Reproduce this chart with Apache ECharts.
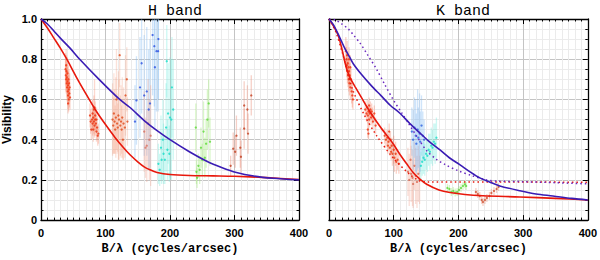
<!DOCTYPE html>
<html><head><meta charset="utf-8">
<script src="https://cdn.jsdelivr.net/npm/echarts@6/dist/echarts.min.js"></script>
<style>html,body{margin:0;padding:0;background:#fff}#c{width:600px;height:260px}</style>
</head><body><div id="c"></div>
<script>
// ---------- tick labels / titles ----------
const panelTitles = ['H band', 'K band'];
const xName = 'B/\u03bb (cycles/arcsec)';
const yName = 'Visibility';

// ---------- model curves [x, V] ----------
const hRedModel = [[0,1.0],[10,0.955],[20,0.905],[30,0.855],[40,0.80],[55,0.71],[72,0.615],[86,0.54],[100,0.475],[115,0.41],[128,0.36],[138,0.325],[150,0.29],[160,0.265],[169,0.25],[180,0.237],[200,0.227],[230,0.222],[267,0.22],[300,0.218],[350,0.211],[400,0.202]];
const hBlueModel = [[0,1.0],[10,0.975],[20,0.94],[30,0.905],[45,0.855],[60,0.80],[90,0.70],[122,0.60],[138,0.56],[160,0.495],[180,0.445],[200,0.40],[230,0.34],[257,0.293],[280,0.262],[303,0.237],[330,0.219],[360,0.208],[400,0.20]];
const kRedModel = [[0,1.0],[7,0.965],[14,0.92],[20,0.85],[25,0.78],[28,0.745],[33,0.705],[40,0.665],[50,0.61],[63,0.54],[80,0.46],[99,0.38],[110,0.325],[120,0.28],[130,0.237],[140,0.205],[151,0.178],[170,0.15],[187,0.137],[210,0.127],[238,0.121],[295,0.115],[350,0.108],[400,0.10]];
const kBlueModel = [[0,1.0],[8,0.965],[17,0.905],[25,0.85],[32,0.81],[38,0.775],[50,0.725],[65,0.67],[80,0.62],[95,0.57],[110,0.53],[125,0.48],[140,0.435],[155,0.39],[171,0.35],[186,0.31],[202,0.276],[218,0.24],[233,0.21],[248,0.19],[264,0.17],[295,0.146],[320,0.13],[346,0.12],[375,0.108],[400,0.10]];
const kRedDotted = [[0,1.0],[10,0.94],[20,0.84],[30,0.72],[37.5,0.64],[55,0.52],[73.6,0.42],[99,0.31],[125,0.227],[140,0.195],[150,0.19],[250,0.19],[400,0.188]];
const kBlueDotted = [[0,1.0],[10,0.995],[20,0.975],[30,0.95],[38,0.92],[48,0.88],[60,0.82],[73.6,0.75],[86,0.675],[99,0.60],[112,0.535],[125,0.47],[138,0.405],[151,0.345],[165,0.305],[180,0.275],[200,0.245],[220,0.222],[243,0.2],[260,0.194],[300,0.191],[350,0.186],[400,0.18]];

// ---------- observations [x, V, error] ----------
const hRedA = [[38,0.75,0.08],[38.5,0.72,0.08],[39,0.70,0.07],[39.5,0.74,0.08],[40,0.68,0.07],[40,0.71,0.07],[40.5,0.66,0.07],[41,0.69,0.07],[41,0.73,0.08],[41.5,0.64,0.07],[42,0.67,0.07],[42,0.62,0.07],[42.5,0.70,0.07],[43,0.65,0.07],[43,0.60,0.06],[43.5,0.68,0.07],[44,0.63,0.07],[44.5,0.66,0.07],[45,0.61,0.06],[39,0.77,0.08],[42,0.58,0.05]];
const hRedB = [[76,0.52,0.06],[77,0.49,0.06],[78,0.45,0.05],[79,0.50,0.06],[80,0.48,0.06],[80,0.53,0.07],[81,0.51,0.06],[82,0.49,0.06],[82,0.55,0.07],[83,0.47,0.06],[84,0.50,0.06],[84,0.52,0.07],[85,0.48,0.06],[86,0.50,0.06],[86,0.44,0.05],[87,0.46,0.06],[88,0.42,0.05],[89,0.43,0.05],[83,0.56,0.14],[81,0.45,0.06]];
const hRedC = [[111,0.50,0.18],[112,0.47,0.14],[113,0.53,0.2],[114,0.49,0.16],[115,0.45,0.12],[116,0.51,0.2],[117,0.60,0.25],[118,0.48,0.15],[119,0.46,0.12],[120,0.52,0.22],[121,0.50,0.2],[122,0.82,0.16],[123,0.47,0.15],[124,0.49,0.18],[125,0.45,0.12],[126,0.51,0.2],[127,0.40,0.1],[128,0.48,0.18],[130,0.46,0.15],[131,0.62,0.2],[133,0.70,0.16],[134,0.49,0.12]];
const hBlue = [[145.7,0.49,0.18],[148,0.595,0.22],[153.5,0.66,0.25],[156,0.78,0.25],[160,0.62,0.3],[164,0.64,0.32],[167,0.55,0.3],[169,0.58,0.32],[173,0.92,0.3],[175.7,0.865,0.3],[176.6,0.76,0.3],[179,0.84,0.3],[181.6,0.84,0.3],[182,0.90,0.3]];
const hSalmon = [[160,0.44,0.2],[162,0.36,0.15],[164,0.37,0.18],[166,0.48,0.22],[168,0.40,0.2],[170,0.42,0.25]];
const hCyan = [[182,0.28,0.1],[184,0.25,0.08],[186,0.36,0.16],[187,0.30,0.12],[189,0.40,0.2],[190,0.33,0.15],[192,0.30,0.12],[194,0.46,0.22],[195,0.79,0.18],[196,0.35,0.15],[197,0.53,0.25],[199,0.33,0.14],[200,0.51,0.3],[202,0.50,0.3],[203,0.66,0.25],[205,0.55,0.25]];
const hGreen = [[240,0.46,0.12],[241,0.24,0.06],[242,0.21,0.05],[244,0.27,0.06],[246,0.25,0.07],[248,0.36,0.1],[250,0.30,0.08],[252,0.44,0.15],[254,0.31,0.1],[256,0.38,0.12],[258,0.50,0.15],[260,0.58,0.12],[262,0.39,0.12]];
const hOrange = [[294,0.27,0.05],[298,0.355,0.08],[301,0.34,0.08],[303,0.42,0.1],[309,0.36,0.1],[310,0.315,0.08],[315,0.57,0.12],[315,0.455,0.1],[320,0.55,0.12],[321,0.43,0.1],[326,0.62,0.1]];

const kRedA = [[26,0.84,0.07],[27,0.80,0.06],[27.5,0.77,0.06],[28,0.82,0.07],[28.5,0.74,0.06],[29,0.78,0.06],[29.5,0.72,0.06],[30,0.76,0.06],[30.5,0.70,0.06],[31,0.74,0.06],[31.5,0.68,0.06],[32,0.72,0.06],[33,0.66,0.06],[34,0.70,0.06],[35,0.64,0.06],[36,0.62,0.06],[37,0.60,0.05],[31,0.80,0.06],[33,0.76,0.06]];
const kRedB = [[56,0.55,0.04],[58,0.53,0.04],[59,0.56,0.04],[60,0.52,0.04],[61,0.54,0.04],[62,0.50,0.04],[62,0.57,0.04],[63,0.53,0.04],[64,0.55,0.04],[65,0.51,0.04],[66,0.54,0.04],[67,0.52,0.04],[68,0.49,0.04],[70,0.53,0.04],[72,0.47,0.04],[60,0.45,0.04],[61,0.43,0.03]];
const kRedC = [[86,0.42,0.04],[88,0.40,0.04],[90,0.41,0.04],[91,0.37,0.04],[92,0.39,0.04],[93,0.44,0.04],[94,0.36,0.04],[95,0.40,0.04],[96,0.34,0.04],[97,0.37,0.04],[98,0.33,0.06],[100,0.35,0.07],[101,0.31,0.07],[103,0.33,0.06],[104,0.29,0.06],[106,0.30,0.05],[108,0.28,0.05]];
const kSalmon = [[122,0.24,0.12],[124,0.20,0.13],[126,0.30,0.1],[127,0.23,0.14],[129,0.21,0.14],[130,0.18,0.12],[132,0.27,0.12],[134,0.22,0.14],[136,0.19,0.13],[138,0.23,0.14],[140,0.20,0.12]];
const kBlue = [[128,0.44,0.12],[130,0.40,0.15],[132,0.46,0.15],[134,0.42,0.18],[135,0.38,0.15],[137,0.45,0.2],[138,0.41,0.15],[140,0.43,0.2],[141,0.39,0.15],[143,0.47,0.15],[145,0.42,0.12],[147,0.40,0.1]];
const kCyan = [[142,0.27,0.07],[144,0.29,0.07],[146,0.31,0.08],[148,0.30,0.08],[150,0.33,0.08],[152,0.32,0.08],[154,0.35,0.08],[156,0.34,0.09],[158,0.37,0.09],[160,0.36,0.09],[162,0.39,0.09],[164,0.38,0.1],[166,0.41,0.1]];
const kGreen = [[183,0.16,0.02],[186,0.155,0.02],[189,0.14,0.02],[192,0.145,0.02],[195,0.137,0.02],[198,0.14,0.02],[201,0.15,0.02],[204,0.16,0.02],[207,0.17,0.02],[210,0.178,0.02],[212,0.17,0.02]];
const kOrange = [[227,0.14,0.02],[230,0.13,0.02],[233,0.12,0.02],[236,0.10,0.02],[238,0.09,0.02],[241,0.10,0.02],[244,0.11,0.02],[248,0.12,0.02],[251,0.135,0.02],[255,0.145,0.02],[259,0.155,0.02],[262,0.165,0.02]];

// ---------- styling ----------
const RED = '#e8180c', BLUE = '#3a1cb4';
const chart = echarts.init(document.getElementById('c'), null, {renderer: 'svg'});

function errSeries(data, color, ax) {
  return {type: 'custom', xAxisIndex: ax, yAxisIndex: ax, data: data, clip: true, silent: true, z: 1,
    encode: {x: 0, y: 1},
    renderItem: function (params, api) {
      const x = api.value(0), y = api.value(1), e = api.value(2);
      const p1 = api.coord([x, y - e]), p2 = api.coord([x, y + e]);
      return {type: 'line', shape: {x1: p1[0], y1: p1[1], x2: p2[0], y2: p2[1]},
        style: {stroke: color, lineWidth: 1.3}};
    }};
}
function ptSeries(data, color, ax) {
  return {type: 'scatter', xAxisIndex: ax, yAxisIndex: ax, data: data, symbolSize: 2.3, silent: true, z: 3,
    encode: {x: 0, y: 1}, itemStyle: {color: color}};
}
function lineSeries(data, color, ax, dotted) {
  return {type: 'line', xAxisIndex: ax, yAxisIndex: ax, data: data, showSymbol: false, smooth: 0.3,
    silent: true, z: 5, lineStyle: {color: color, width: dotted ? 1.5 : 1.6, type: dotted ? [1.5, 3] : 'solid'}};
}

const frame = {show: true, onZero: false, lineStyle: {color: '#000', width: 1.3}};
function xAx(gi, pos, main) {
  return {type: 'value', gridIndex: gi, position: pos, min: 0, max: 400, interval: 100,
    axisLine: frame,
    axisTick: {show: true, inside: true, length: 5, lineStyle: {color: '#000'}},
    minorTick: {show: true, splitNumber: 10, length: 2.5, lineStyle: {color: '#000'}},
    splitLine: {show: main, lineStyle: {color: '#c4c4c4', width: 1}},
    minorSplitLine: {show: main, lineStyle: {color: '#ebebeb', width: 1}},
    axisLabel: {show: main, color: '#000', fontFamily: 'Liberation Sans', fontWeight: 'bold', fontSize: 11, margin: 7},
    name: main ? xName : '', nameLocation: 'middle', nameGap: 21,
    nameTextStyle: {fontFamily: 'Liberation Mono', fontWeight: 'bold', fontSize: 12, color: '#000'}};
}
function yAx(gi, pos, main, labels) {
  return {type: 'value', gridIndex: gi, position: pos, min: 0, max: 1, interval: 0.2,
    axisLine: frame,
    axisTick: {show: true, inside: true, length: 5, lineStyle: {color: '#000'}},
    minorTick: {show: true, splitNumber: 4, length: 2.5, lineStyle: {color: '#000'}},
    splitLine: {show: main, lineStyle: {color: '#c4c4c4', width: 1}},
    minorSplitLine: {show: main, lineStyle: {color: '#ebebeb', width: 1}},
    axisLabel: {show: labels, color: '#000', fontFamily: 'Liberation Sans', fontWeight: 'bold', fontSize: 11, margin: 4,
      formatter: v => v === 0 ? '0' : v.toFixed(1)},
    name: labels ? yName : '', nameLocation: 'middle', nameGap: 28, nameRotate: 90,
    nameTextStyle: {fontFamily: 'Liberation Sans', fontWeight: 'bold', fontSize: 12, color: '#000'}};
}

const series = [
  // H band (axis index 0)
  errSeries(hRedA, 'rgba(245,130,100,0.3)', 0), errSeries(hRedB, 'rgba(245,130,100,0.3)', 0),
  errSeries(hRedC, 'rgba(245,150,120,0.28)', 0), errSeries(hBlue, 'rgba(120,180,240,0.35)', 0),
  errSeries(hSalmon, 'rgba(240,160,140,0.35)', 0), errSeries(hCyan, 'rgba(110,235,220,0.35)', 0),
  errSeries(hGreen, 'rgba(160,235,120,0.4)', 0), errSeries(hOrange, 'rgba(235,150,130,0.45)', 0),
  ptSeries(hRedA, '#f0300c', 0), ptSeries(hRedB, '#e8300c', 0), ptSeries(hRedC, '#e04818', 0),
  ptSeries(hBlue, '#2a50e0', 0), ptSeries(hSalmon, '#d87060', 0), ptSeries(hCyan, '#18dcc8', 0),
  ptSeries(hGreen, '#5cd838', 0), ptSeries(hOrange, '#c04020', 0),
  lineSeries(hRedModel, RED, 0), lineSeries(hBlueModel, BLUE, 0),
  // K band (axis index 2)
  errSeries(kRedA, 'rgba(245,130,100,0.35)', 2), errSeries(kRedB, 'rgba(245,130,100,0.35)', 2),
  errSeries(kRedC, 'rgba(245,130,100,0.35)', 2), errSeries(kSalmon, 'rgba(240,160,140,0.35)', 2),
  errSeries(kBlue, 'rgba(120,180,240,0.35)', 2), errSeries(kCyan, 'rgba(110,235,220,0.35)', 2),
  errSeries(kGreen, 'rgba(160,235,120,0.4)', 2), errSeries(kOrange, 'rgba(235,150,130,0.45)', 2),
  ptSeries(kRedA, '#f0300c', 2), ptSeries(kRedB, '#f0300c', 2), ptSeries(kRedC, '#e8380c', 2),
  ptSeries(kSalmon, '#d86850', 2), ptSeries(kBlue, '#2a60e0', 2), ptSeries(kCyan, '#18dcc8', 2),
  ptSeries(kGreen, '#5cd838', 2), ptSeries(kOrange, '#d05030', 2),
  lineSeries(kRedDotted, RED, 2, true), lineSeries(kBlueDotted, '#6a28c0', 2, true),
  lineSeries(kRedModel, RED, 2), lineSeries(kBlueModel, BLUE, 2)
];

chart.setOption({
  animation: false,
  backgroundColor: '#fff',
  title: [
    {text: panelTitles[0], left: 170, top: -1, textAlign: 'center',
      textStyle: {fontFamily: 'Liberation Mono', fontWeight: 'normal', fontSize: 15, color: '#000'}},
    {text: panelTitles[1], left: 458, top: -1, textAlign: 'center',
      textStyle: {fontFamily: 'Liberation Mono', fontWeight: 'normal', fontSize: 15, color: '#000'}}
  ],
  grid: [
    {left: 41, top: 19, width: 258, height: 204},
    {left: 329, top: 19, width: 259, height: 204}
  ],
  xAxis: [xAx(0, 'bottom', true), xAx(0, 'top', false), xAx(1, 'bottom', true), xAx(1, 'top', false)],
  yAxis: [yAx(0, 'left', true, true), yAx(0, 'right', false, false), yAx(1, 'left', true, false), yAx(1, 'right', false, false)],
  series: series
});
</script></body></html>
